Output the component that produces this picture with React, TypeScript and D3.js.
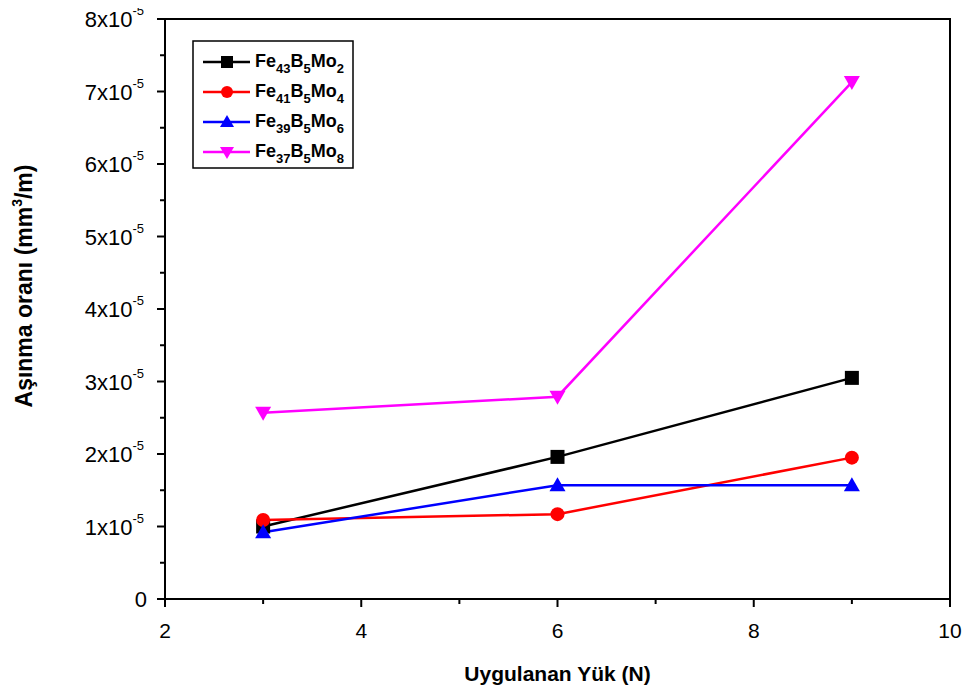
import * as d3 from "d3";
import React from "react";

// load values (N)
const loads = [3, 6, 9];

// wear rate series (mm3/m)
const fe43 = [1.0e-5, 1.96e-5, 3.05e-5];
const fe41 = [1.09e-5, 1.17e-5, 1.95e-5];
const fe39 = [0.92e-5, 1.57e-5, 1.57e-5];
const fe37 = [2.57e-5, 2.79e-5, 7.13e-5];

const xTicks = [2, 4, 6, 8, 10];
const yTicks = [0, 1, 2, 3, 4, 5, 6, 7, 8];

const seriesList = [
  { fe: "43", mo: "2", values: fe43, color: "#000000", shape: "square" },
  { fe: "41", mo: "4", values: fe41, color: "#ff0000", shape: "circle" },
  { fe: "39", mo: "6", values: fe39, color: "#0000ff", shape: "triangle" },
  { fe: "37", mo: "8", values: fe37, color: "#ff00ff", shape: "triangleDown" },
];

const width = 972;
const height = 693;
const margin = { top: 19, right: 22, bottom: 94, left: 165 };
const innerWidth = width - margin.left - margin.right;
const innerHeight = height - margin.top - margin.bottom;

const font = "'Liberation Sans', Arial, sans-serif";

function Marker({ shape, x, y, color, s = 7 }: { shape: string; x: number; y: number; color: string; s?: number }) {
  if (shape === "square") {
    return <rect x={x - s} y={y - s} width={2 * s} height={2 * s} fill={color} />;
  }
  if (shape === "circle") {
    return <circle cx={x} cy={y} r={s} fill={color} />;
  }
  if (shape === "triangle") {
    return <path d={`M${x},${y - s - 1}L${x + s + 1},${y + s - 1}L${x - s - 1},${y + s - 1}Z`} fill={color} />;
  }
  return <path d={`M${x - s - 1},${y - s + 1}L${x + s + 1},${y - s + 1}L${x},${y + s + 1}Z`} fill={color} />;
}

export default function App() {
  const xScale = d3.scaleLinear().domain([2, 10]).range([0, innerWidth]);
  const yScale = d3.scaleLinear().domain([0, 8e-5]).range([innerHeight, 0]);

  const line = d3
    .line<number>()
    .x((d, i) => xScale(loads[i]))
    .y((d) => yScale(d));

  const xMinor = d3.range(2, 10.01, 1);
  const yMinor = d3.range(0, 8.01, 0.5);

  return (
    <div style={{ margin: -8 }}>
      <svg width={width} height={height} style={{ display: "block", fontFamily: font }}>
        <rect width={width} height={height} fill="white" />
        <g transform={`translate(${margin.left},${margin.top})`}>
          {/* lines */}
          {seriesList.map((s) => (
            <path key={s.fe} d={line(s.values) || ""} fill="none" stroke={s.color} strokeWidth={2.5} />
          ))}
          {seriesList.map((s) =>
            s.values.map((v, i) => (
              <Marker key={s.fe + i} shape={s.shape} x={xScale(loads[i])} y={yScale(v)} color={s.color} />
            ))
          )}

          {/* frame */}
          <rect x={0} y={0} width={innerWidth} height={innerHeight} fill="none" stroke="black" strokeWidth={2} />

          {/* x ticks */}
          {xMinor.map((t) => (
            <line
              key={"xm" + t}
              x1={xScale(t)}
              x2={xScale(t)}
              y1={innerHeight}
              y2={innerHeight + (t % 2 === 0 ? 8 : 5)}
              stroke="black"
              strokeWidth={2}
            />
          ))}
          {xTicks.map((t) => (
            <text key={"xl" + t} x={xScale(t)} y={innerHeight + 39} textAnchor="middle" fontSize={21}>
              {t}
            </text>
          ))}
          <text x={xScale(6)} y={innerHeight + 82} textAnchor="middle" fontSize={21} fontWeight="bold">
            Uygulanan Yük (N)
          </text>

          {/* y ticks */}
          {yMinor.map((t) => (
            <line
              key={"ym" + t}
              x1={-(Number.isInteger(t) ? 8 : 5)}
              x2={0}
              y1={yScale(t * 1e-5)}
              y2={yScale(t * 1e-5)}
              stroke="black"
              strokeWidth={2}
            />
          ))}
          {yTicks.map((t) =>
            t === 0 ? (
              <text key={"yl" + t} x={-18} y={yScale(0) + 8} textAnchor="end" fontSize={22}>
                0
              </text>
            ) : (
              <text key={"yl" + t} x={-21} y={yScale(t * 1e-5) + 8} textAnchor="end" fontSize={22}>
                {t}x10
                <tspan fontSize={13} dy={-12}>
                  -5
                </tspan>
              </text>
            )
          )}
          <text
            transform={`translate(${-133},${innerHeight / 2 - 23}) rotate(-90)`}
            textAnchor="middle"
            fontSize={23}
            fontWeight="bold"
          >
            Aşınma oranı (mm
            <tspan fontSize={14} dy={-10}>
              3
            </tspan>
            <tspan dy={10}>/m)</tspan>
          </text>

          {/* legend */}
          <g transform={`translate(${193 - margin.left},${41 - margin.top})`}>
            <rect x={0} y={0} width={160} height={127} fill="white" stroke="black" strokeWidth={1.5} />
            {seriesList.map((s, i) => {
              const ly = 21 + i * 30;
              return (
                <g key={"lg" + s.fe}>
                  <line x1={10} x2={57} y1={ly} y2={ly} stroke={s.color} strokeWidth={2.5} />
                  <Marker shape={s.shape} x={34} y={ly} color={s.color} s={6} />
                  <text x={62} y={ly + 5} fontSize={18} fontWeight="bold">
                    Fe
                    <tspan fontSize={13} dy={6}>{s.fe}</tspan>
                    <tspan dy={-6}>B</tspan>
                    <tspan fontSize={13} dy={6}>5</tspan>
                    <tspan dy={-6}>Mo</tspan>
                    <tspan fontSize={13} dy={6}>{s.mo}</tspan>
                  </text>
                </g>
              );
            })}
          </g>
        </g>
      </svg>
    </div>
  );
}
